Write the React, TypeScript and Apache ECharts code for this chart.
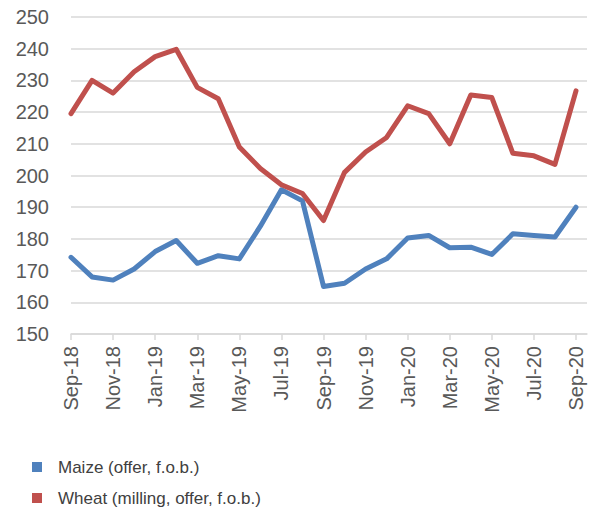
import React, { useEffect, useRef } from "react";
import * as echarts from "echarts";

const categories = [
  "Sep-18", "Oct-18", "Nov-18", "Dec-18", "Jan-19", "Feb-19", "Mar-19", "Apr-19",
  "May-19", "Jun-19", "Jul-19", "Aug-19", "Sep-19", "Oct-19", "Nov-19", "Dec-19",
  "Jan-20", "Feb-20", "Mar-20", "Apr-20", "May-20", "Jun-20", "Jul-20", "Aug-20", "Sep-20",
];

const maize = [
  174.2, 168, 167, 170.5, 176, 179.5, 172.3, 174.7, 173.7, 184, 195.5, 192,
  165, 166, 170.5, 173.7, 180.3, 181.1, 177.2, 177.4, 175.1, 181.6, 181.1, 180.6, 190,
];

const wheat = [
  219.5, 230, 226, 232.7, 237.5, 239.8, 227.8, 224.2, 209, 202.2, 197.1, 194.3,
  185.8, 201, 207.4, 212, 222, 219.5, 210, 225.4, 224.6, 207, 206.2, 203.5, 226.7,
];

const seriesNames = ["Maize (offer, f.o.b.)", "Wheat (milling, offer, f.o.b.)"];
const yMin = 150;
const yMax = 250;
const yStep = 10;

const FONT = "'Liberation Sans', Arial, sans-serif";

export default function App() {
  const ref = useRef<HTMLDivElement>(null);
  useEffect(() => {
    if (!ref.current) return;
    const chart = echarts.init(ref.current, undefined, { renderer: "svg" });
    chart.setOption({
      animation: false,
      backgroundColor: "#ffffff",
      grid: [
        { left: 71, right: 14, top: 17, bottom: 182 },
        { left: 71, right: 25, top: 17, bottom: 182 },
      ],
      xAxis: [
        {
          gridIndex: 0,
          type: "value",
          min: 0,
          max: 1,
          axisLine: { show: true, onZero: false, lineStyle: { color: "#d9d9d9", width: 1.5 } },
          axisTick: { show: false },
          axisLabel: { show: false },
          splitLine: { show: false },
        },
        {
          gridIndex: 1,
          type: "category",
          data: categories,
          boundaryGap: false,
          axisLine: { show: false },
          axisTick: {
            show: true,
            interval: 1,
            length: 6,
            lineStyle: { color: "#d9d9d9", width: 1.5 },
          },
          axisLabel: {
            interval: 1,
            rotate: 90,
            margin: 12,
            color: "#595959",
            fontSize: 20,
            fontFamily: FONT,
          },
          splitLine: { show: false },
        },
      ],
      yAxis: [
        {
          gridIndex: 0,
          type: "value",
          min: yMin,
          max: yMax,
          interval: yStep,
          axisLine: { show: false },
          axisTick: { show: false },
          axisLabel: {
            margin: 22,
            color: "#595959",
            fontSize: 20,
            fontFamily: FONT,
          },
          splitLine: { show: true, lineStyle: { color: "#d9d9d9", width: 1.5 } },
        },
        {
          gridIndex: 1,
          type: "value",
          min: yMin,
          max: yMax,
          interval: yStep,
          show: false,
          splitLine: { show: false },
        },
      ],
      legend: {
        orient: "vertical",
        left: 32,
        top: 457,
        padding: 0,
        itemWidth: 10,
        itemHeight: 10,
        itemGap: 11,
        icon: "rect",
        textStyle: {
          color: "#404040",
          fontSize: 17,
          lineHeight: 20,
          fontFamily: FONT,
          padding: [0, 0, 0, 11],
        },
        data: seriesNames,
      },
      series: [
        {
          name: seriesNames[0],
          type: "line",
          xAxisIndex: 1,
          yAxisIndex: 1,
          data: maize,
          symbol: "none",
          color: "#4f81bd",
          lineStyle: { width: 5, color: "#4f81bd", join: "round", cap: "round" },
        },
        {
          name: seriesNames[1],
          type: "line",
          xAxisIndex: 1,
          yAxisIndex: 1,
          data: wheat,
          symbol: "none",
          color: "#c0504d",
          lineStyle: { width: 5, color: "#c0504d", join: "round", cap: "round" },
        },
      ],
    });
    return () => chart.dispose();
  }, []);
  return (
    <div
      ref={ref}
      style={{ position: "absolute", left: 0, top: 0, width: 601, height: 516 }}
    />
  );
}
